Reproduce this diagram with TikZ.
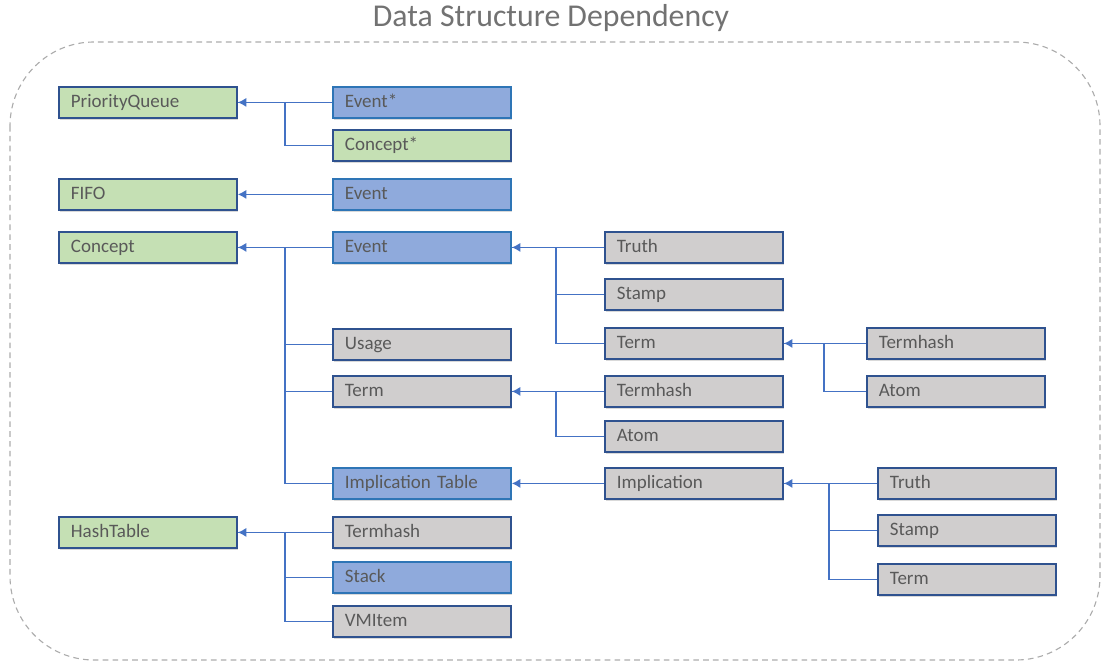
\documentclass[tikz,border=0pt]{standalone}
\usepackage{fontspec}
\setmainfont{Carlito}
\usetikzlibrary{arrows.meta,shadows}
\definecolor{boxgreen}{HTML}{C5E0B4}
\definecolor{boxblue}{HTML}{8FAADC}
\definecolor{boxgrey}{HTML}{D0CECE}
\definecolor{edgedark}{HTML}{2F528F}
\definecolor{edgeblue}{HTML}{2E75B6}
\definecolor{linkblue}{HTML}{4472C4}
\definecolor{txtgrey}{HTML}{595959}

\begin{document}
\begin{tikzpicture}[x=0.025cm, y=-0.025cm,
    item/.style={rectangle, draw=edgedark, line width=1.3pt, anchor=north west,
        minimum width=4.45cm, minimum height=0.775cm, text width=3.85cm,
        text height=0.75em, text depth=0.09em, inner ysep=0.2em,
        inner xsep=0.3cm, align=left, text=txtgrey,
        font=\fontsize{13.5}{16}\selectfont,
        drop shadow={shadow xshift=0.8pt, shadow yshift=-1.5pt, opacity=0.3}},
    libbox/.style={item, fill=boxgreen},
    evbox/.style={item, fill=boxblue, draw=edgeblue},
    databox/.style={item, fill=boxgrey},
    bus/.style={draw=linkblue, line width=0.9pt},
    arr/.style={bus, -{Latex[length=6pt,width=6.5pt]}}]
    \useasboundingbox (0,0) rectangle (1102,662);

    % Rahmen und Titel
    \draw[gray!65, line width=0.8pt, dash pattern=on 4pt off 3pt, rounded corners=2.1cm]
        (10,42) rectangle (1100,660);
    \node[text=txtgrey!85, font=\fontsize{22.6}{26}\selectfont] (title) at (551,18) {Data Structure Dependency};

    % Spalte 1
    \node[libbox] (pq) at (58,86) {PriorityQueue};
    \node[libbox] (fifo) at (58,178) {FIFO};
    \node[libbox] (conc) at (58,231) {Concept};
    \node[libbox] (htab) at (58,516) {HashTable};

    % Spalte 2
    \node[evbox] (evs) at (332,86) {Event*};
    \node[libbox] (cps) at (332,129) {Concept*};
    \node[evbox] (evf) at (332,178) {Event};
    \node[evbox] (evc) at (332,231) {Event};
    \node[databox] (usage) at (332,328) {Usage};
    \node[databox] (termb) at (332,375) {Term};
    \node[evbox] (imptab) at (332,467) {Implication Table};
    \node[databox] (thb) at (332,516) {Termhash};
    \node[evbox] (stack) at (332,561) {Stack};
    \node[databox] (vmitem) at (332,605) {VMItem};

    % Spalte 3
    \node[databox] (truthc) at (604,231) {Truth};
    \node[databox] (stampc) at (604,278) {Stamp};
    \node[databox] (termc) at (604,327) {Term};
    \node[databox] (thc) at (604,375) {Termhash};
    \node[databox] (atomc) at (604,420) {Atom};
    \node[databox] (impl) at (604,467) {Implication};

    % Spalte 4
    \node[databox] (thd) at (866,327) {Termhash};
    \node[databox] (atomd) at (866,375) {Atom};
    \node[databox] (truthe) at (877,467) {Truth};
    \node[databox] (stampe) at (877,514) {Stamp};
    \node[databox] (terme) at (877,563) {Term};

    % Verbindungen
    \draw[arr] (evs.west) -- (pq.east);
    \draw[bus] (cps.west) -- ++(-47,0) |- (pq.east);
    \draw[arr] (evf.west) -- (fifo.east);
    \draw[arr] (evc.west) -- (conc.east);
    \foreach \n in {usage,termb,imptab}
        \draw[bus] (\n.west) -- ++(-47,0) |- (conc.east);
    \draw[arr] (truthc.west) -- (evc.east);
    \foreach \n in {stampc,termc}
        \draw[bus] (\n.west) -- ++(-48,0) |- (evc.east);
    \draw[arr] (thd.west) -- (termc.east);
    \draw[bus] (atomd.west) -- ++(-42,0) |- (termc.east);
    \draw[arr] (thc.west) -- (termb.east);
    \draw[bus] (atomc.west) -- ++(-48,0) |- (termb.east);
    \draw[arr] (impl.west) -- (imptab.east);
    \draw[arr] (truthe.west) -- (impl.east);
    \foreach \n in {stampe,terme}
        \draw[bus] (\n.west) -- ++(-48,0) |- (impl.east);
    \draw[arr] (thb.west) -- (htab.east);
    \foreach \n in {stack,vmitem}
        \draw[bus] (\n.west) -- ++(-47,0) |- (htab.east);
\end{tikzpicture}
\end{document}
